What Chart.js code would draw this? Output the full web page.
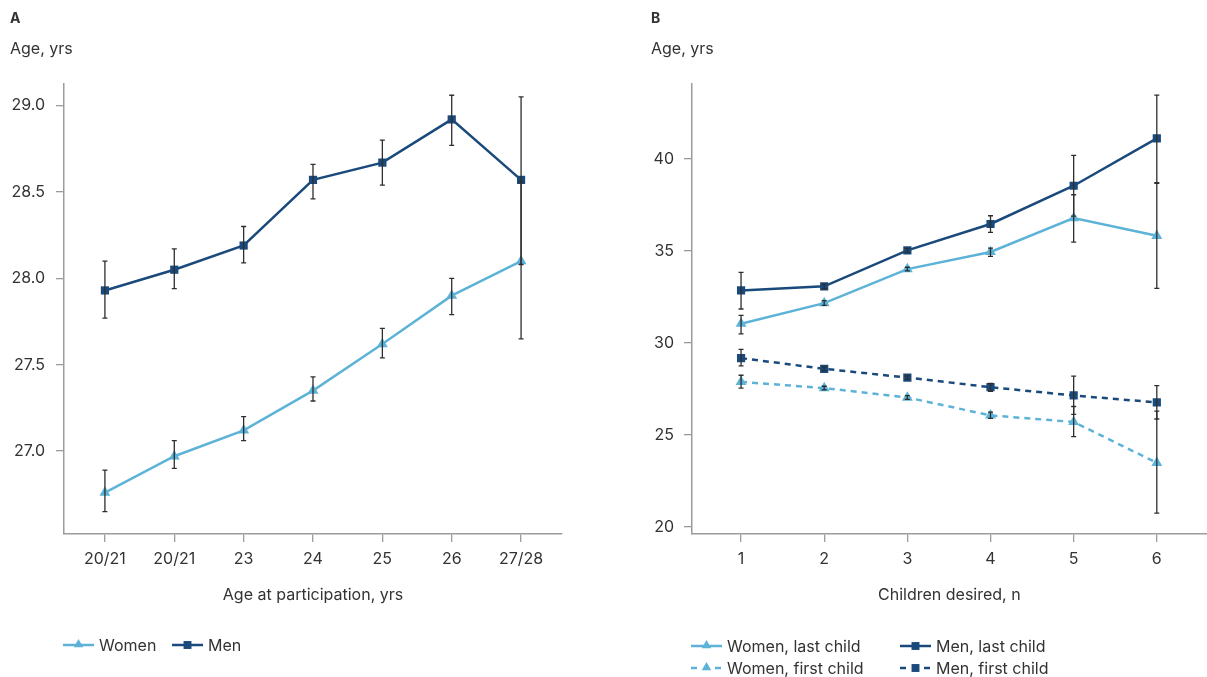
<!DOCTYPE html>
<html><head><meta charset="utf-8">
<script src="https://cdn.jsdelivr.net/npm/chart.js@4.4.1/dist/chart.umd.min.js"></script>
<style>
html,body{margin:0;padding:0;background:#fff;}
#wrap{position:relative;width:1207px;height:677px;overflow:hidden;font-family:Inter,"Liberation Sans",sans-serif;color:#333;}
.panel{position:absolute;font-weight:700;font-size:14px;line-height:18px;}
.ylab{position:absolute;font-size:16px;line-height:18px;}
canvas{position:absolute;top:0;}
</style></head><body>
<div id="wrap">
<canvas id="cA" width="600" height="677" style="left:0;width:600px;height:677px"></canvas>
<canvas id="cB" width="613" height="677" style="left:600px;width:613px;height:677px"></canvas>
<div class="panel" style="left:10px;top:9px">A</div>
<div class="ylab" style="left:10px;top:39px">Age, yrs</div>
<div class="panel" style="left:651px;top:9px">B</div>
<div class="ylab" style="left:651px;top:39px">Age, yrs</div>
</div>
<script>
// ---------- Data ----------
const A_LABELS = ['20/21', '20/21', '23', '24', '25', '26', '27/28'];
const A_WOMEN    = [26.76, 26.97, 27.12, 27.35, 27.62, 27.90, 28.10];
const A_WOMEN_LO = [26.65, 26.90, 27.06, 27.29, 27.54, 27.79, 27.65];
const A_WOMEN_HI = [26.89, 27.06, 27.20, 27.43, 27.71, 28.00, 28.56];
const A_MEN      = [27.93, 28.05, 28.19, 28.57, 28.67, 28.92, 28.57];
const A_MEN_LO   = [27.77, 27.94, 28.09, 28.46, 28.54, 28.77, 28.08];
const A_MEN_HI   = [28.10, 28.17, 28.30, 28.66, 28.80, 29.06, 29.05];
const A_YTICKS   = [27.0, 27.5, 28.0, 28.5, 29.0];

const B_X = [1, 2, 3, 4, 5, 6];
const B_WOMEN_LAST    = [31.05, 32.17, 34.02, 34.95, 36.79, 35.83];
const B_WOMEN_LAST_LO = [30.50, 32.05, 33.92, 34.71, 35.49, 32.97];
const B_WOMEN_LAST_HI = [31.50, 32.30, 34.12, 35.16, 38.06, 38.68];
const B_MEN_LAST      = [32.86, 33.08, 35.04, 36.47, 38.55, 41.12];
const B_MEN_LAST_LO   = [31.85, 32.95, 34.94, 36.01, 36.90, 38.72];
const B_MEN_LAST_HI   = [33.84, 33.20, 35.14, 36.92, 40.20, 43.48];
const B_WOMEN_FIRST    = [27.89, 27.55, 27.04, 26.07, 25.71, 23.49];
const B_WOMEN_FIRST_LO = [27.55, 27.45, 26.94, 25.90, 24.91, 20.76];
const B_WOMEN_FIRST_HI = [28.25, 27.65, 27.14, 26.25, 26.55, 26.30];
const B_MEN_FIRST      = [29.18, 28.60, 28.12, 27.60, 27.15, 26.77];
const B_MEN_FIRST_LO   = [28.76, 28.50, 28.02, 27.38, 26.12, 25.87];
const B_MEN_FIRST_HI   = [29.65, 28.70, 28.22, 27.80, 28.20, 27.69];
const B_YTICKS = [20, 25, 30, 35, 40];

// ---------- Styles ----------
const FONT = 'Inter, "Liberation Sans", sans-serif';
const TXT = '#333333';
const AXIS = '#9c9c9c';
const C_WOMEN = '#5db3d7';
const C_MEN = '#1a4a7c';

function pts(xs, ys) { return ys.map((v, i) => ({ x: xs[i], y: v })); }

function drawMarker(ctx, style, x, y, r, color) {
  ctx.fillStyle = color;
  ctx.beginPath();
  if (style === 'triangle') {
    ctx.moveTo(x, y - r);
    ctx.lineTo(x + r * 0.866, y + r * 0.5);
    ctx.lineTo(x - r * 0.866, y + r * 0.5);
    ctx.closePath();
  } else {
    const s = r * 0.72;
    ctx.rect(x - s, y - s, 2 * s, 2 * s);
  }
  ctx.fill();
}

const errorBars = {
  id: 'errorBars',
  afterDatasetsDraw(chart) {
    const { ctx } = chart;
    const xs = chart.scales.x, ys = chart.scales.y;
    ctx.save();
    ctx.strokeStyle = '#2e2e2e';
    ctx.lineWidth = 1.3;
    ctx.setLineDash([]);
    chart.data.datasets.forEach(ds => {
      if (!ds.errLo) return;
      ds.data.forEach((p, i) => {
        const px = xs.getPixelForValue(p.x);
        const y1 = ys.getPixelForValue(ds.errLo[i]);
        const y2 = ys.getPixelForValue(ds.errHi[i]);
        ctx.beginPath();
        ctx.moveTo(px, y1); ctx.lineTo(px, y2);
        ctx.moveTo(px - 2.5, y1); ctx.lineTo(px + 2.5, y1);
        ctx.moveTo(px - 2.5, y2); ctx.lineTo(px + 2.5, y2);
        ctx.stroke();
      });
    });
    ctx.restore();
  }
};

const customLegend = {
  id: 'customLegend',
  afterDraw(chart, args, opts) {
    const ctx = chart.ctx;
    ctx.save();
    ctx.font = '16px ' + FONT;
    ctx.textBaseline = 'middle';
    opts.items.forEach(it => {
      const ds = chart.data.datasets[it.index];
      const x0 = it.x, y0 = it.y, w = 31;
      ctx.strokeStyle = ds.borderColor;
      ctx.lineWidth = 2.5;
      ctx.setLineDash(ds.borderDash && ds.borderDash.length ? [6, 18] : []);
      ctx.beginPath(); ctx.moveTo(x0, y0); ctx.lineTo(x0 + w, y0); ctx.stroke();
      ctx.setLineDash([]);
      drawMarker(ctx, ds.pointStyle, x0 + w / 2, y0 + (ds.pointStyle === 'triangle' ? -0.5 : 0), 5.5, ds.borderColor);
      ctx.fillStyle = TXT;
      ctx.fillText(ds.label, x0 + w + 5, y0 + 1);
    });
    ctx.restore();
  }
};

function lineDs(label, xs, ys, lo, hi, color, style, dashed) {
  return {
    label, data: pts(xs, ys), errLo: lo, errHi: hi,
    borderColor: color, backgroundColor: color,
    borderWidth: 2.5, borderDash: dashed ? [6, 5] : [],
    pointStyle: style, pointRadius: style === 'triangle' ? 6.3 : 5.8,
    pointBorderWidth: 0, pointBackgroundColor: color, pointHoverRadius: 6,
    tension: 0, fill: false
  };
}

function makeScales(xMin, xMax, xTicks, xLabelFn, xTitle, yMin, yMax, yTicks, yWidth, yPad) {
  const tickFont = { family: FONT, size: 16 };
  return {
    x: {
      type: 'linear', min: xMin, max: xMax,
      afterBuildTicks: ax => { ax.ticks = xTicks.map(v => ({ value: v })); },
      afterFit: ax => { ax.height = 71; },
      ticks: { callback: xLabelFn, color: TXT, font: tickFont, padding: 8, maxRotation: 0, autoSkip: false },
      grid: { drawOnChartArea: false, drawTicks: true, tickLength: 8, color: AXIS, lineWidth: 1.3 },
      border: { color: AXIS, width: 1.5 },
      title: { display: true, text: xTitle, color: TXT, font: { family: FONT, size: 16 }, padding: 0 }
    },
    y: {
      type: 'linear', min: yMin, max: yMax,
      afterBuildTicks: ax => { ax.ticks = yTicks.map(v => ({ value: v })); },
      afterFit: ax => { ax.width = yWidth; },
      ticks: { color: TXT, font: tickFont, padding: yPad, callback: v => yTicks.some(t => t % 1 !== 0) ? v.toFixed(1) : String(v) },
      grid: { drawOnChartArea: false, drawTicks: true, tickLength: 8, color: AXIS, lineWidth: 1.3 },
      border: { color: AXIS, width: 1.5 }
    }
  };
}

const A_X = A_LABELS.map((_, i) => i);

new Chart(document.getElementById('cA'), {
  type: 'line',
  data: {
    datasets: [
      lineDs('Women', A_X, A_WOMEN, A_WOMEN_LO, A_WOMEN_HI, C_WOMEN, 'triangle', false),
      lineDs('Men', A_X, A_MEN, A_MEN_LO, A_MEN_HI, C_MEN, 'rect', false)
    ]
  },
  options: {
    responsive: false, animation: false, devicePixelRatio: 1,
    layout: { padding: { left: 0, top: 84, right: 38, bottom: 72 } },
    scales: makeScales(-0.59, 6.59, A_X, v => A_LABELS[Math.round(v)], 'Age at participation, yrs',
                       26.52, 29.125, A_YTICKS, 64, 11),
    plugins: {
      legend: { display: false }, tooltip: { enabled: false },
      customLegend: { items: [{ index: 0, x: 63, y: 645 }, { index: 1, x: 172, y: 645 }] }
    }
  },
  plugins: [errorBars, customLegend]
});

new Chart(document.getElementById('cB'), {
  type: 'line',
  data: {
    datasets: [
      lineDs('Women, last child', B_X, B_WOMEN_LAST, B_WOMEN_LAST_LO, B_WOMEN_LAST_HI, C_WOMEN, 'triangle', false),
      lineDs('Men, last child', B_X, B_MEN_LAST, B_MEN_LAST_LO, B_MEN_LAST_HI, C_MEN, 'rect', false),
      lineDs('Women, first child', B_X, B_WOMEN_FIRST, B_WOMEN_FIRST_LO, B_WOMEN_FIRST_HI, C_WOMEN, 'triangle', true),
      lineDs('Men, first child', B_X, B_MEN_FIRST, B_MEN_FIRST_LO, B_MEN_FIRST_HI, C_MEN, 'rect', true)
    ]
  },
  options: {
    responsive: false, animation: false, devicePixelRatio: 1,
    layout: { padding: { left: 0, top: 84, right: 0, bottom: 72 } },
    scales: makeScales(0.41, 6.6, B_X, v => String(v), 'Children desired, n',
                       19.62, 44.08, B_YTICKS, 92, 10),
    plugins: {
      legend: { display: false }, tooltip: { enabled: false },
      customLegend: { items: [
        { index: 0, x: 91, y: 646 }, { index: 1, x: 300, y: 646 },
        { index: 2, x: 91, y: 668 }, { index: 3, x: 300, y: 668 }
      ] }
    }
  },
  plugins: [errorBars, customLegend]
});
</script>
</body></html>
